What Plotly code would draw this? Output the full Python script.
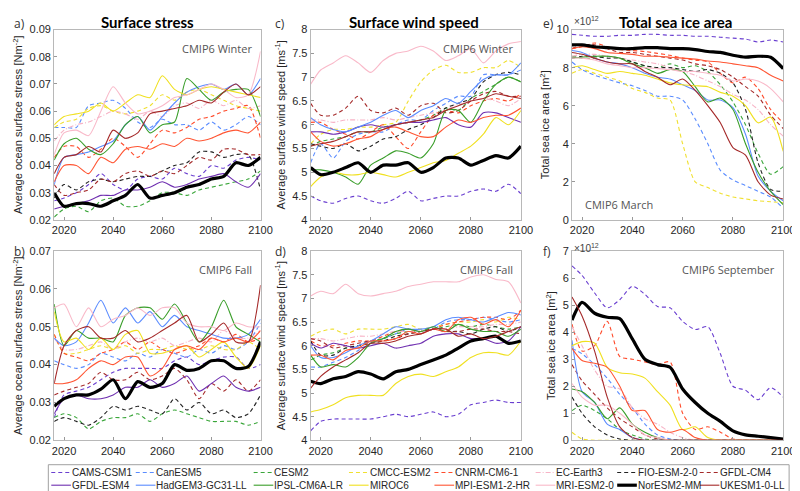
import plotly.graph_objects as go

W, H = 800, 491

years = [2016, 2020, 2025, 2030, 2035, 2040, 2045, 2050, 2055, 2060,
         2065, 2070, 2075, 2080, 2085, 2090, 2095, 2100]

models = ["CAMS-CSM1", "CanESM5", "CESM2", "CMCC-ESM2", "CNRM-CM6-1", "EC-Earth3",
          "FIO-ESM-2-0", "GFDL-CM4", "GFDL-ESM4", "HadGEM3-GC31-LL", "IPSL-CM6A-LR",
          "MIROC6", "MPI-ESM1-2-HR", "MRI-ESM2-0", "NorESM2-MM", "UKESM1-0-LL"]

colors = ["#6a3fd0", "#5a8cff", "#3aa63a", "#f0e030", "#ff4b2b", "#f7b3c6",
          "#222222", "#a52a2a", "#6f2fb0", "#5b8cff", "#3a9e2a",
          "#f0e020", "#ff5533", "#f9b9c9", "#000000", "#a52a2a"]
dashes = ["4px,3px"] * 5 + ["5px,2px,1px,2px"] + ["4px,3px"] * 2 + ["solid"] * 8

# ---- a) Surface stress, winter [N m-2]
stress_winter = {
    "CAMS-CSM1": [0.027, 0.028, 0.030, 0.033, 0.037, 0.033, 0.031, 0.035, 0.036, 0.035, 0.039, 0.037, 0.036, 0.040, 0.039, 0.042, 0.043, 0.042],
    "CanESM5": [0.054, 0.054, 0.054, 0.062, 0.063, 0.064, 0.061, 0.056, 0.054, 0.057, 0.055, 0.055, 0.053, 0.056, 0.053, 0.055, 0.058, 0.055],
    "CESM2": [0.021, 0.024, 0.025, 0.023, 0.027, 0.028, 0.025, 0.025, 0.027, 0.030, 0.030, 0.029, 0.031, 0.032, 0.033, 0.034, 0.035, 0.038],
    "CMCC-ESM2": [0.054, 0.056, 0.057, 0.061, 0.062, 0.060, 0.059, 0.060, 0.062, 0.066, 0.064, 0.067, 0.068, 0.066, 0.064, 0.062, 0.061, 0.060],
    "CNRM-CM6-1": [0.043, 0.047, 0.047, 0.043, 0.046, 0.050, 0.047, 0.043, 0.048, 0.053, 0.052, 0.054, 0.057, 0.058, 0.060, 0.061, 0.062, 0.050],
    "EC-Earth3": [0.049, 0.053, 0.055, 0.056, 0.058, 0.060, 0.059, 0.057, 0.060, 0.058, 0.062, 0.063, 0.061, 0.064, 0.062, 0.064, 0.061, 0.062],
    "FIO-ESM-2-0": [0.028, 0.033, 0.031, 0.034, 0.035, 0.034, 0.035, 0.036, 0.036, 0.038, 0.040, 0.041, 0.045, 0.045, 0.043, 0.044, 0.044, 0.031],
    "GFDL-CM4": [0.033, 0.029, 0.030, 0.031, 0.035, 0.034, 0.037, 0.038, 0.036, 0.038, 0.037, 0.040, 0.043, 0.042, 0.046, 0.046, 0.044, 0.044],
    "GFDL-ESM4": [0.024, 0.025, 0.026, 0.027, 0.029, 0.029, 0.031, 0.031, 0.032, 0.034, 0.032, 0.033, 0.035, 0.036, 0.037, 0.034, 0.032, 0.037],
    "HadGEM3-GC31-LL": [0.033, 0.043, 0.044, 0.045, 0.047, 0.049, 0.055, 0.058, 0.053, 0.058, 0.063, 0.067, 0.069, 0.070, 0.068, 0.070, 0.066, 0.072],
    "IPSL-CM6A-LR": [0.042, 0.048, 0.050, 0.046, 0.044, 0.048, 0.055, 0.058, 0.052, 0.055, 0.056, 0.072, 0.068, 0.064, 0.067, 0.068, 0.068, 0.058],
    "MIROC6": [0.055, 0.058, 0.059, 0.060, 0.063, 0.060, 0.063, 0.066, 0.065, 0.073, 0.068, 0.066, 0.068, 0.069, 0.068, 0.067, 0.066, 0.065],
    "MPI-ESM1-2-HR": [0.034, 0.040, 0.040, 0.037, 0.043, 0.041, 0.046, 0.047, 0.046, 0.048, 0.047, 0.050, 0.049, 0.050, 0.052, 0.053, 0.052, 0.056],
    "MRI-ESM2-0": [0.044, 0.052, 0.053, 0.051, 0.060, 0.069, 0.063, 0.059, 0.060, 0.062, 0.065, 0.066, 0.068, 0.070, 0.068, 0.065, 0.066, 0.082],
    "NorESM2-MM": [0.030, 0.025, 0.026, 0.026, 0.025, 0.027, 0.029, 0.033, 0.028, 0.029, 0.030, 0.032, 0.033, 0.035, 0.036, 0.041, 0.040, 0.043],
    "UKESM1-0-LL": [0.037, 0.043, 0.044, 0.047, 0.045, 0.053, 0.050, 0.052, 0.059, 0.060, 0.061, 0.062, 0.064, 0.063, 0.067, 0.070, 0.066, 0.069],
}

# ---- b) Surface stress, fall [N m-2]
stress_fall = {
    "CAMS-CSM1": [0.026, 0.032, 0.033, 0.034, 0.036, 0.038, 0.039, 0.039, 0.039, 0.039, 0.041, 0.042, 0.040, 0.041, 0.042, 0.042, 0.039, 0.040],
    "CanESM5": [0.041, 0.040, 0.039, 0.040, 0.043, 0.042, 0.041, 0.043, 0.042, 0.044, 0.043, 0.042, 0.044, 0.043, 0.045, 0.044, 0.046, 0.051],
    "CESM2": [0.026, 0.027, 0.026, 0.023, 0.025, 0.026, 0.026, 0.027, 0.025, 0.027, 0.028, 0.027, 0.026, 0.025, 0.025, 0.025, 0.024, 0.025],
    "CMCC-ESM2": [0.048, 0.043, 0.043, 0.044, 0.045, 0.044, 0.045, 0.043, 0.044, 0.044, 0.045, 0.044, 0.044, 0.045, 0.044, 0.044, 0.046, 0.044],
    "CNRM-CM6-1": [0.048, 0.043, 0.042, 0.041, 0.043, 0.044, 0.046, 0.044, 0.046, 0.044, 0.043, 0.044, 0.045, 0.047, 0.046, 0.048, 0.046, 0.047],
    "EC-Earth3": [0.047, 0.044, 0.044, 0.045, 0.046, 0.044, 0.046, 0.047, 0.046, 0.047, 0.045, 0.046, 0.047, 0.046, 0.049, 0.047, 0.047, 0.049],
    "FIO-ESM-2-0": [0.025, 0.026, 0.025, 0.024, 0.026, 0.029, 0.028, 0.029, 0.028, 0.027, 0.031, 0.028, 0.030, 0.027, 0.028, 0.026, 0.027, 0.032],
    "GFDL-CM4": [0.032, 0.033, 0.034, 0.035, 0.038, 0.036, 0.036, 0.038, 0.036, 0.037, 0.039, 0.036, 0.031, 0.035, 0.033, 0.036, 0.033, 0.036],
    "GFDL-ESM4": [0.027, 0.031, 0.032, 0.031, 0.031, 0.032, 0.034, 0.034, 0.036, 0.034, 0.035, 0.037, 0.033, 0.035, 0.037, 0.034, 0.033, 0.034],
    "HadGEM3-GC31-LL": [0.047, 0.045, 0.046, 0.051, 0.057, 0.051, 0.055, 0.051, 0.054, 0.050, 0.053, 0.050, 0.049, 0.048, 0.047, 0.047, 0.048, 0.052],
    "IPSL-CM6A-LR": [0.056, 0.045, 0.049, 0.047, 0.047, 0.046, 0.053, 0.055, 0.055, 0.052, 0.056, 0.051, 0.046, 0.050, 0.057, 0.050, 0.048, 0.046],
    "MIROC6": [0.054, 0.046, 0.047, 0.044, 0.047, 0.044, 0.048, 0.049, 0.043, 0.043, 0.044, 0.045, 0.042, 0.044, 0.046, 0.042, 0.039, 0.045],
    "MPI-ESM1-2-HR": [0.035, 0.035, 0.036, 0.039, 0.041, 0.040, 0.042, 0.042, 0.037, 0.039, 0.044, 0.045, 0.044, 0.047, 0.046, 0.047, 0.046, 0.049],
    "MRI-ESM2-0": [0.055, 0.056, 0.050, 0.055, 0.050, 0.052, 0.053, 0.055, 0.053, 0.055, 0.055, 0.051, 0.050, 0.050, 0.049, 0.051, 0.050, 0.050],
    "NorESM2-MM": [0.029, 0.031, 0.032, 0.032, 0.0335, 0.036, 0.031, 0.0355, 0.034, 0.035, 0.040, 0.0385, 0.039, 0.041, 0.041, 0.039, 0.0395, 0.046],
    "UKESM1-0-LL": [0.035, 0.045, 0.049, 0.050, 0.047, 0.047, 0.049, 0.046, 0.047, 0.049, 0.051, 0.053, 0.046, 0.048, 0.051, 0.046, 0.046, 0.061],
}

# ---- c) Surface wind speed, winter [m s-1]
wind_winter = {
    "CAMS-CSM1": [4.5, 4.4, 4.35, 4.45, 4.5, 4.4, 4.35, 4.45, 4.6, 4.4, 4.45, 4.5, 4.5, 4.6, 4.65, 4.6, 4.75, 4.55],
    "CanESM5": [5.2, 5.6, 5.3, 5.65, 5.8, 5.85, 5.85, 6.0, 6.1, 6.1, 6.3, 6.45, 6.6, 6.6, 7.05, 7.05, 7.05, 7.15],
    "CESM2": [5.55, 5.65, 5.7, 5.75, 5.85, 5.85, 5.95, 6.0, 6.05, 6.1, 6.2, 6.35, 6.3, 6.55, 6.7, 6.85, 7.0, 6.9],
    "CMCC-ESM2": [5.6, 5.8, 5.9, 5.9, 5.95, 5.95, 6.0, 6.05, 6.5, 6.9, 7.15, 7.25, 7.1, 7.1, 7.2, 7.2, 7.35, 7.2],
    "CNRM-CM6-1": [6.05, 6.05, 5.9, 5.8, 5.7, 5.85, 6.0, 5.75, 5.5, 5.85, 6.2, 6.3, 6.25, 6.4, 6.5, 6.55, 6.5, 6.65],
    "EC-Earth3": [6.1, 6.1, 6.05, 6.1, 6.1, 6.1, 6.15, 6.1, 6.15, 6.2, 6.25, 6.3, 6.45, 6.5, 6.55, 6.5, 6.4, 6.55],
    "FIO-ESM-2-0": [5.6, 5.55, 5.5, 5.6, 5.45, 5.55, 5.7, 5.75, 5.9, 6.0, 6.15, 6.35, 6.45, 6.55, 6.9, 7.05, 7.1, 7.05],
    "GFDL-CM4": [6.45, 6.2, 6.2, 6.35, 6.6, 6.3, 6.25, 6.35, 6.2, 6.4, 6.45, 6.25, 6.3, 6.5, 6.65, 6.7, 6.6, 6.6],
    "GFDL-ESM4": [5.85, 5.85, 5.8, 5.85, 5.95, 6.0, 5.95, 6.0, 6.05, 6.05, 6.1, 6.15, 6.0, 5.95, 6.25, 6.25, 6.15, 6.05],
    "HadGEM3-GC31-LL": [6.15, 6.0, 5.9, 5.85, 5.95, 6.05, 6.2, 6.3, 6.15, 6.3, 6.4, 6.55, 6.45, 6.7, 6.95, 7.05, 7.05, 7.3],
    "IPSL-CM6A-LR": [5.05, 5.05, 5.0, 4.9, 4.75, 5.15, 5.3, 5.45, 5.4, 5.3, 5.6, 6.3, 6.3, 6.05, 6.5, 6.85, 7.0, 6.9],
    "MIROC6": [4.7, 4.9, 5.0, 4.95, 4.95, 5.0, 4.95, 4.9, 5.0, 5.1, 5.2, 5.25, 5.4, 5.55, 5.8, 6.15, 6.0, 6.3],
    "MPI-ESM1-2-HR": [5.85, 5.65, 5.55, 5.6, 5.7, 5.75, 5.9, 5.95, 5.85, 5.75, 5.75, 5.95, 6.1, 6.05, 6.15, 6.2, 6.2, 6.35],
    "MRI-ESM2-0": [6.85, 7.15, 7.3, 7.45, 7.3, 7.1, 7.35, 7.5, 7.55, 7.65, 7.55, 7.35, 7.45, 7.6, 7.3, 7.55, 7.7, 7.75],
    "NorESM2-MM": [5.1, 4.95, 5.0, 5.1, 5.2, 5.0, 5.15, 5.15, 5.2, 5.0, 5.1, 5.3, 5.3, 5.15, 5.25, 5.35, 5.3, 5.55],
    "UKESM1-0-LL": [5.55, 5.6, 5.65, 5.75, 5.85, 5.85, 5.9, 6.0, 6.05, 6.1, 6.15, 6.3, 6.4, 6.5, 6.55, 6.65, 6.6, 6.55],
}

# ---- d) Surface wind speed, fall [m s-1]
wind_fall = {
    "CAMS-CSM1": [4.2, 4.4, 4.45, 4.45, 4.45, 4.45, 4.5, 4.55, 4.5, 4.55, 4.6, 4.5, 4.55, 4.75, 4.8, 4.85, 4.8, 4.8],
    "CanESM5": [5.55, 5.55, 5.65, 5.75, 5.9, 6.05, 6.15, 6.25, 6.35, 6.3, 6.35, 6.5, 6.55, 6.55, 6.6, 6.55, 6.5, 6.55],
    "CESM2": [5.7, 5.8, 5.85, 5.95, 6.0, 6.1, 6.15, 6.25, 6.3, 6.3, 6.35, 6.4, 6.45, 6.4, 6.45, 6.4, 6.35, 6.4],
    "CMCC-ESM2": [6.2, 6.3, 6.35, 6.25, 6.35, 6.35, 6.35, 6.4, 6.45, 6.35, 6.4, 6.45, 6.5, 6.5, 6.55, 6.5, 6.6, 6.55],
    "CNRM-CM6-1": [6.1, 6.0, 6.0, 6.05, 6.1, 6.1, 6.2, 6.3, 6.35, 6.3, 6.35, 6.45, 6.5, 6.55, 6.6, 6.6, 6.55, 6.75],
    "EC-Earth3": [6.15, 6.15, 6.1, 6.15, 6.2, 6.2, 6.25, 6.3, 6.3, 6.3, 6.35, 6.35, 6.4, 6.4, 6.4, 6.45, 6.45, 6.5],
    "FIO-ESM-2-0": [6.1, 5.8, 5.8, 5.95, 6.0, 6.05, 6.1, 6.2, 6.25, 6.3, 6.35, 6.3, 6.3, 6.25, 6.35, 6.4, 6.3, 6.4],
    "GFDL-CM4": [6.15, 6.1, 5.95, 6.0, 6.05, 6.1, 6.1, 6.15, 6.25, 6.3, 6.35, 6.3, 6.3, 6.35, 6.35, 6.3, 6.3, 6.25],
    "GFDL-ESM4": [6.05, 5.95, 6.05, 6.0, 5.95, 6.0, 6.05, 5.95, 6.0, 6.05, 6.2, 6.25, 6.25, 6.15, 6.15, 6.05, 6.1, 6.4],
    "HadGEM3-GC31-LL": [6.0, 5.75, 5.75, 5.85, 6.0, 6.1, 6.25, 6.4, 6.35, 6.35, 6.4, 6.55, 6.6, 6.55, 6.5, 6.6, 6.7, 6.65],
    "IPSL-CM6A-LR": [5.8, 5.55, 5.6, 5.55, 5.75, 6.05, 6.15, 6.3, 6.35, 6.3, 6.4, 6.3, 6.45, 6.35, 6.3, 6.3, 6.2, 6.35],
    "MIROC6": [4.6, 4.65, 4.75, 4.9, 4.95, 4.95, 4.95, 5.2, 5.35, 5.4, 5.35, 5.45, 5.55, 5.75, 5.85, 5.85, 5.8, 6.1],
    "MPI-ESM1-2-HR": [5.8, 5.8, 5.7, 5.9, 5.95, 6.1, 6.1, 6.15, 6.3, 6.25, 6.35, 6.3, 6.55, 6.6, 6.45, 6.55, 6.4, 6.75],
    "MRI-ESM2-0": [7.05, 7.15, 7.1, 7.3, 7.1, 7.05, 7.1, 7.15, 7.25, 7.3, 7.35, 7.35, 7.35, 7.45, 7.5, 7.4, 7.35, 6.9],
    "NorESM2-MM": [5.25, 5.2, 5.3, 5.35, 5.45, 5.4, 5.3, 5.45, 5.5, 5.6, 5.7, 5.8, 5.95, 6.1, 6.15, 6.2, 6.05, 6.1],
    "UKESM1-0-LL": [5.1, 5.35, 5.55, 5.7, 5.85, 6.05, 6.05, 6.1, 6.2, 6.25, 6.35, 6.35, 6.2, 6.25, 6.15, 6.2, 6.3, 6.4],
}

# ---- e) Total sea ice area, March [10^12 m2]
ice_march = {
    "CAMS-CSM1": [9.75, 9.7, 9.65, 9.65, 9.7, 9.7, 9.75, 9.75, 9.7, 9.7, 9.65, 9.65, 9.6, 9.55, 9.5, 9.35, 9.45, 9.35],
    "CanESM5": [8.3, 7.9, 7.6, 7.4, 7.2, 7.05, 6.8, 6.5, 6.5, 6.3, 5.3, 4.0, 2.6, 2.1, 1.8, 1.5, 1.2, 0.6],
    "CESM2": [8.6, 8.5, 8.5, 8.6, 8.5, 8.3, 8.1, 8.0, 8.2, 8.0, 8.1, 7.8, 7.1, 6.2, 5.0, 3.5, 2.4, 2.8],
    "CMCC-ESM2": [7.7, 7.9, 7.7, 7.5, 7.3, 6.9, 6.7, 6.4, 6.3, 4.0, 2.0, 1.7, 1.4, 1.2, 1.1, 1.0, 0.95, 0.9],
    "CNRM-CM6-1": [9.0, 9.1, 9.3, 9.1, 8.95, 8.9, 8.85, 8.75, 8.65, 8.5, 8.4, 8.3, 7.7, 7.2, 7.5, 6.9, 5.8, 5.1],
    "EC-Earth3": [8.6, 8.7, 8.7, 8.6, 8.5, 8.4, 8.3, 8.2, 8.0, 7.8, 7.6, 7.3, 7.0, 6.6, 6.3, 5.8, 5.0, 4.4],
    "FIO-ESM-2-0": [8.5, 8.6, 8.6, 8.5, 8.5, 8.3, 8.1, 8.0, 8.0, 7.9, 7.8, 7.9, 7.7, 7.2, 5.8, 3.0, 1.6, 1.5],
    "GFDL-CM4": [9.0, 9.2, 9.2, 9.0, 8.8, 8.8, 8.7, 8.6, 8.5, 8.4, 8.2, 8.1, 7.9, 7.5, 7.0, 6.5, 5.5, 4.8],
    "GFDL-ESM4": None,
    "HadGEM3-GC31-LL": [8.9, 8.8, 8.5, 8.3, 8.2, 8.0, 7.7, 7.5, 7.4, 7.1, 6.8, 6.3, 6.3, 5.9, 4.5, 2.3, 1.5, 1.0],
    "IPSL-CM6A-LR": [8.5, 8.55, 8.6, 8.6, 8.5, 8.2, 8.0, 7.7, 7.9, 7.8, 7.0, 6.2, 6.4, 5.8, 4.0, 2.5, 1.5, 0.8],
    "MIROC6": [8.0, 8.1, 7.9, 7.7, 7.8, 7.7, 7.6, 7.4, 7.2, 7.1, 7.05, 7.0, 6.7, 6.5, 6.0, 5.1, 5.4, 3.6],
    "MPI-ESM1-2-HR": [9.0, 9.1, 9.0, 8.8, 8.75, 8.7, 8.6, 8.6, 8.55, 8.5, 8.45, 8.35, 8.3, 8.2, 8.1, 8.0, 7.6, 7.3],
    "MRI-ESM2-0": [8.5, 8.5, 8.4, 8.2, 8.1, 8.0, 8.0, 7.95, 7.9, 7.8, 7.8, 7.7, 7.6, 7.3, 7.4, 7.3, 6.9, 6.2],
    "NorESM2-MM": [9.2, 9.2, 9.1, 9.05, 9.0, 9.0, 9.05, 9.05, 9.0, 9.0, 8.95, 8.85, 8.8, 8.65, 8.55, 8.6, 8.55, 7.95],
    "UKESM1-0-LL": [8.8, 8.7, 8.5, 8.3, 8.2, 8.2, 7.8, 7.5, 7.1, 7.4, 6.8, 6.0, 5.1, 3.8, 3.4, 2.0, 1.3, 1.1],
}

# ---- f) Total sea ice area, September [10^12 m2]
ice_september = {
    "CAMS-CSM1": [6.45, 6.1, 5.45, 4.9, 5.2, 5.7, 5.4, 4.95, 4.9, 4.4, 4.1, 4.2, 3.2, 2.0, 1.85, 1.5, 1.95, 1.6],
    "CanESM5": [3.4, 3.2, 2.8, 2.3, 1.7, 1.2, 0.6, 0.2, 0.05, 0, 0, 0, 0, 0, 0, 0, 0, 0],
    "CESM2": [1.1, 1.3, 1.1, 0.8, 0.4, 0.2, 0.05, 0, 0, 0, 0, 0, 0, 0, 0, 0, 0, 0],
    "CMCC-ESM2": [0.3, 0.05, 0, 0, 0, 0, 0, 0, 0, 0, 0, 0, 0, 0, 0, 0, 0, 0],
    "CNRM-CM6-1": [4.3, 3.3, 3.5, 4.4, 3.1, 3.0, 2.9, 2.8, 2.9, 1.0, 0.4, 0.5, 0.3, 0.05, 0, 0, 0, 0],
    "EC-Earth3": [4.2, 3.5, 2.6, 2.0, 1.9, 1.2, 0.8, 0.6, 0.3, 0.1, 0, 0, 0, 0, 0, 0, 0, 0],
    "FIO-ESM-2-0": [1.6, 1.0, 0.5, 0.2, 0.05, 0, 0, 0, 0, 0, 0, 0, 0, 0, 0, 0, 0, 0],
    "GFDL-CM4": [2.8, 2.2, 1.7, 1.2, 0.8, 0.5, 0.2, 0.05, 0, 0, 0, 0, 0, 0, 0, 0, 0, 0],
    "GFDL-ESM4": None,
    "HadGEM3-GC31-LL": [3.7, 1.8, 1.4, 0.6, 0.4, 0.1, 0, 0, 0, 0, 0, 0, 0, 0, 0, 0, 0, 0],
    "IPSL-CM6A-LR": [1.9, 1.8, 1.4, 0.8, 1.2, 0.6, 0.3, 0.1, 0, 0, 0, 0, 0, 0, 0, 0, 0, 0],
    "MIROC6": [3.5, 3.65, 3.6, 2.7, 2.5, 2.45, 2.3, 1.8, 1.3, 0.4, 0.5, 0.1, 0, 0, 0, 0, 0, 0],
    "MPI-ESM1-2-HR": [3.4, 2.95, 2.85, 2.7, 2.0, 1.1, 1.1, 0.4, 0.3, 0.4, 0.1, 0, 0, 0, 0, 0, 0, 0],
    "MRI-ESM2-0": [2.1, 1.6, 1.3, 1.3, 1.0, 0.6, 0.2, 0.1, 0, 0, 0, 0, 0, 0, 0, 0, 0, 0],
    "NorESM2-MM": [4.45, 5.1, 4.7, 4.55, 4.5, 3.75, 3.0, 2.8, 2.7, 1.9, 1.4, 1.0, 0.7, 0.35, 0.2, 0.15, 0.1, 0.05],
    "UKESM1-0-LL": [5.3, 4.6, 3.3, 1.6, 0.5, 0.1, 0, 0, 0, 0, 0, 0, 0, 0, 0, 0, 0, 0],
}

panels = [  # (data, xaxis id, yaxis id)
    (stress_winter, "x", "y"),
    (stress_fall, "x2", "y2"),
    (wind_winter, "x3", "y3"),
    (wind_fall, "x4", "y4"),
    (ice_march, "x5", "y5"),
    (ice_september, "x6", "y6"),
]

fig = go.Figure()
for data, xa, ya in panels:
    for i, m in enumerate(models):
        vals = data.get(m)
        if vals is None:
            continue
        bold = m == "NorESM2-MM"
        fig.add_trace(go.Scatter(
            x=years, y=vals, xaxis=xa, yaxis=ya, mode="lines", name=m,
            showlegend=False, hoverinfo="skip",
            line=dict(color=colors[i], width=3.2 if bold else 1.1,
                      dash=dashes[i], shape="spline", smoothing=0.7),
        ))

def py(px):
    return 1 - px / H

def px_(px):
    return px / W

colx = [(45, 255), (306, 520), (572, 787)]
rowy = [(16, 211), (243, 437)]

tickfont = dict(family="Liberation Sans, Arial, sans-serif", size=11, color="#262626")
titlefont = dict(family="Liberation Sans, Arial, sans-serif", size=11, color="#262626")

yspecs = [
    dict(range=[0.02, 0.09], dtick=0.01, tickformat=".2f", title="Average ocean surface stress [Nm<sup>-2</sup>]"),
    dict(range=[0.02, 0.07], dtick=0.01, tickformat=".2f", title="Average ocean surface stress [Nm<sup>-2</sup>]"),
    dict(range=[4, 8], dtick=0.5, tickformat="", title="Average surface wind speed [ms<sup>-1</sup>]"),
    dict(range=[4, 8], dtick=0.5, tickformat="", title="Average surface wind speed [ms<sup>-1</sup>]"),
    dict(range=[0, 10], dtick=2, tickformat="", title="Total sea ice area [m<sup>2</sup>]"),
    dict(range=[0, 7], dtick=1, tickformat="", title="Total sea ice area [m<sup>2</sup>]"),
]

layout = {}
for k in range(6):
    c, r = k // 2, k % 2
    xname = "xaxis" if k == 0 else f"xaxis{k+1}"
    yname = "yaxis" if k == 0 else f"yaxis{k+1}"
    yid = "y" if k == 0 else f"y{k+1}"
    xid = "x" if k == 0 else f"x{k+1}"
    x0, x1 = colx[c]
    y0, y1 = rowy[r]
    layout[xname] = dict(
        domain=[px_(x0), px_(x1)], anchor=yid, range=[2016, 2100],
        tickvals=[2020, 2040, 2060, 2080, 2100], ticks="inside", ticklen=3,
        tickcolor="#999999", showline=True, mirror=True, linecolor="#b8b8b8",
        linewidth=1, showgrid=False, zeroline=False, tickfont=tickfont,
    )
    s = yspecs[k]
    layout[yname] = dict(
        domain=[py(y1), py(y0)], anchor=xid, range=s["range"], dtick=s["dtick"],
        tickformat=s["tickformat"], ticks="inside", ticklen=3, tickcolor="#999999",
        showline=True, mirror=True, linecolor="#b8b8b8", linewidth=1,
        showgrid=False, zeroline=False, tickfont=tickfont,
        title=dict(text=s["title"], font=titlefont, standoff=4),
    )

annotations = []
shapes = []

# panel titles
titles = [("Surface stress", 140), ("Surface wind speed", 411), ("Total sea ice area", 677)]
for t, cx in titles:
    annotations.append(dict(text="<b>%s</b>" % t, x=px_(cx), y=py(8), xref="paper", yref="paper",
                            xanchor="center", yanchor="middle", showarrow=False,
                            font=dict(family="Lato, Open Sans, sans-serif", size=15, color="#000000")))

# panel letters
letters = [("a)", 2, 10), ("b)", 2, 243), ("c)", 268, 10), ("d)", 268, 243), ("e)", 540, 10), ("f)", 540, 243)]
for t, lx, ly in letters:
    annotations.append(dict(text=t, x=px_(lx), y=py(ly), xref="paper", yref="paper",
                            xanchor="left", yanchor="middle", showarrow=False,
                            font=dict(family="Open Sans, sans-serif", size=12, color="#333333")))

# CMIP6 labels
labels = [("CMIP6 Winter", "x", "y", 0.97, 0.9, "right"),
          ("CMIP6 Fall", "x2", "y2", 0.97, 0.9, "right"),
          ("CMIP6 Winter", "x3", "y3", 0.97, 0.9, "right"),
          ("CMIP6 Fall", "x4", "y4", 0.97, 0.9, "right"),
          ("CMIP6 March", "x5", "y5", 0.05, 0.08, "left"),
          ("CMIP6 September", "x6", "y6", 0.97, 0.9, "right")]
for t, xa, ya, ax, ay, anc in labels:
    annotations.append(dict(text=t, x=ax, y=ay, xref=xa + " domain", yref=ya + " domain",
                            xanchor=anc, yanchor="middle", showarrow=False,
                            font=dict(family="Open Sans, sans-serif", size=11, color="#555555")))

# exponent labels
for yy in (10, 243):
    annotations.append(dict(text="×10<sup>12</sup>", x=px_(572), y=py(yy - 3), xref="paper", yref="paper",
                            xanchor="left", yanchor="middle", showarrow=False,
                            font=dict(family="Liberation Sans, Arial, sans-serif", size=10, color="#444444")))

# legend (manual, 2 rows x 8 columns)
legend_cols = [42, 128, 248, 345, 432, 535, 618, 702]
legend_rows = [470, 483]
shapes.append(dict(type="rect", xref="paper", yref="paper", x0=px_(39), x1=px_(793),
                   y0=py(490), y1=py(462), line=dict(color="#a0a0a0", width=1),
                   fillcolor="rgba(0,0,0,0)"))
for i, m in enumerate(models):
    col = i % 8
    row = i // 8
    lx = legend_cols[col]
    ly = legend_rows[row]
    bold = m == "NorESM2-MM"
    shapes.append(dict(type="line", xref="paper", yref="paper", x0=px_(lx), x1=px_(lx + 20),
                       y0=py(ly), y1=py(ly),
                       line=dict(color=colors[i], width=3.2 if bold else 1.1, dash=dashes[i])))
    annotations.append(dict(text=m, x=px_(lx + 20), y=py(ly), xref="paper", yref="paper",
                            xanchor="left", yanchor="middle", showarrow=False, borderpad=0,
                            font=dict(family="Liberation Sans, Arial, sans-serif", size=10, color="#262626")))

fig.update_layout(
    width=W, height=H, margin=dict(l=0, r=0, t=0, b=0),
    paper_bgcolor="white", plot_bgcolor="white", showlegend=False,
    annotations=annotations, shapes=shapes, **layout,
)

fig.write_html("out.html")
